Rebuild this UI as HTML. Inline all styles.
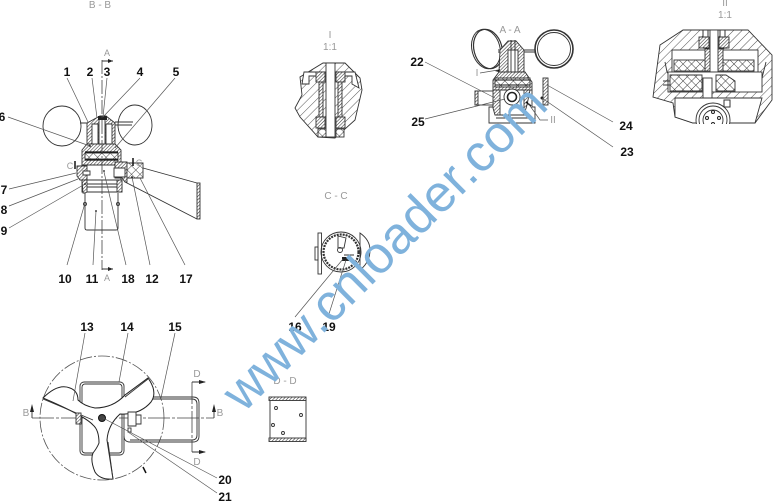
<!DOCTYPE html>
<html><head><meta charset="utf-8"><style>
html,body{margin:0;padding:0;background:#fff;width:773px;height:501px;overflow:hidden}
svg{display:block}
.l{font:bold 12px "Liberation Sans",sans-serif;fill:#111;text-anchor:middle}
.t{font:10px "Liberation Sans",sans-serif;fill:#999;text-anchor:middle}
.k{fill:none;stroke:#333;stroke-width:.9}
.m{fill:none;stroke:#555;stroke-width:.7}
.h{fill:url(#hatch);stroke:#333;stroke-width:.9}
.hf{fill:url(#hatchf);stroke:#333;stroke-width:.9}
.x{fill:url(#cross);stroke:#333;stroke-width:.9}
</style></head><body>
<svg width="773" height="501" viewBox="0 0 773 501" xmlns="http://www.w3.org/2000/svg">
<defs>
<pattern id="hatch" width="6" height="6" patternUnits="userSpaceOnUse" patternTransform="rotate(45)"><rect width="6" height="6" fill="#fff"/><line x1="0" y1="0" x2="0" y2="6" stroke="#555" stroke-width="1"/></pattern>
<pattern id="hatchf" width="2.4" height="2.4" patternUnits="userSpaceOnUse" patternTransform="rotate(45)"><rect width="2.4" height="2.4" fill="#fff"/><line x1="0" y1="0" x2="0" y2="2.4" stroke="#333" stroke-width="1.1"/></pattern>
<pattern id="cross" width="6" height="6" patternUnits="userSpaceOnUse" patternTransform="rotate(45)"><rect width="6" height="6" fill="#fff"/><path d="M0 0V6M0 0H6" stroke="#444" stroke-width="1"/></pattern>
</defs>

<!-- B-B -->
<text class="t" x="100" y="8">B - B</text>
<ellipse class="k" cx="62" cy="126" rx="19" ry="20" stroke-width="1.2"/>
<ellipse class="k" cx="135" cy="125" rx="17" ry="20" stroke-width="1.2"/>
<path class="k" d="M80 123H88M115 122H133M115 125H132"/>
<path class="hf" d="M87 123L100 116H106L115 123V144H87Z"/>
<path class="k" style="fill:#fff" d="M92 124H98V144H92ZM106 124H112V144H106Z"/>
<path class="k" style="fill:#fff" d="M99 118H105V152H99Z"/>
<path fill="#222" d="M98 116H107V120H98Z"/>
<path class="hf" d="M87 144L82 150V165H121V150L115 144Z"/>
<path class="x" d="M85 153H118V159H85Z"/>
<path d="M85 152H118M85 160H118" stroke="#111" stroke-width="1.3"/>
<path class="k" style="fill:#fff" d="M82 165H121V180H82Z"/>
<path class="hf" d="M77 166H87V180H80L77 176Z"/>
<path class="k" style="fill:#fff" d="M83 171H90V175H83Z"/>
<path class="hf" d="M115 162H127V182H125L122 178H115Z"/>
<path class="k" style="fill:#fff" d="M114 168H125V177H114Z"/>
<path class="x" d="M127 163H143V178H127Z"/>
<path class="k" d="M82 180H122V192H82ZM84 184H120M84 187H120"/>
<path class="hf" d="M82 180H87V192L85 193H83Z"/>
<path class="hf" d="M117 180H122V192H117Z"/>
<path class="k" d="M85 193V228Q85 230 87 230H116Q118 230 118 228V193"/>
<circle class="k" cx="85" cy="204" r="1.5"/><circle class="k" cx="118" cy="204" r="1.5"/>
<path class="k" d="M143 168L197 183M125 182L197 219"/>
<rect class="hf" x="197" y="183" width="3" height="36"/>
<path d="M75 161V169M133 158V166" stroke="#222" stroke-width="1.6"/>
<path d="M102 60V270" stroke="#444" stroke-width=".8" stroke-dasharray="14 2 2 2" fill="none"/>
<path class="k" d="M102 61H113M102 269H113"/>
<path d="M108 59L113 61L108 63ZM108 267L113 269L108 271Z" fill="#222"/>
<text class="t" x="107" y="56" style="font-size:9px">A</text>
<text class="t" x="107" y="281" style="font-size:9px">A</text>
<text class="t" x="70" y="169" style="font-size:9px">C</text>
<text class="t" x="139" y="166" style="font-size:9px">C</text>
<path class="m" d="M67 78L88 122M92 78L97 118M107 78L103 117M140 78L103 117M175 78L115 148M8 117L90 146M9 189L76 173M9 206L78 179M9 228L85 184M67 265L85 203M93 265L96 211M126 265L104 172M150 265L132 177M185 265L140 178"/>
<g fill="#111"><circle cx="90" cy="146" r=".9"/><circle cx="85" cy="184" r=".9"/><circle cx="96" cy="211" r=".9"/><circle cx="104" cy="171" r=".9"/><circle cx="132" cy="177" r=".9"/></g>
<text class="l" x="67" y="76">1</text><text class="l" x="90" y="76">2</text><text class="l" x="107" y="76">3</text><text class="l" x="140" y="76">4</text><text class="l" x="176" y="76">5</text>
<text class="l" x="2" y="121">6</text><text class="l" x="4" y="194">7</text><text class="l" x="4" y="214">8</text><text class="l" x="4" y="235">9</text>
<text class="l" x="65" y="283">10</text><text class="l" x="92" y="283">11</text><text class="l" x="128" y="283">18</text><text class="l" x="152" y="283">12</text><text class="l" x="186" y="283">17</text>

<!-- plan view -->
<circle cx="102" cy="418" r="62" fill="none" stroke="#555" stroke-width=".8" stroke-dasharray="12 2 2 2"/>
<rect class="k" x="80" y="382" width="44" height="73" rx="4"/><rect class="k" x="82" y="384" width="40" height="69" rx="3"/>
<path class="k" d="M124 397H193Q199 397 199 403V436Q199 442 193 442H130Q124 442 124 436"/>
<path class="k" d="M124 399H192Q197 399 197 404V435Q197 440 192 440H130"/>
<path d="M32 418H214" stroke="#444" stroke-width=".8" stroke-dasharray="22 2 3 2" fill="none"/>
<path d="M192 382V452" stroke="#444" stroke-width=".8" stroke-dasharray="22 2 3 2" fill="none"/>
<path class="k" d="M32 418V408M214 418V408M192 382H205M192 452H205"/>
<path d="M30 412L32 404L34 412ZM212 412L214 404L216 412ZM199 380L206 382L199 384ZM199 450L206 452L199 454Z" fill="#222"/>
<text class="t" x="26" y="416">B</text><text class="t" x="220" y="416">B</text>
<text class="t" x="197" y="377">D</text><text class="t" x="197" y="465">D</text>
<path d="M43 398Q58 383 70 388Q78 391 78 400Q84 406 95 408Q113 408 125 395L148 378Q158 392 151 402Q140 415 120 414Q108 425 107 440L113 479Q100 480 95 472Q90 460 93 453Q97 448 99 443Q99 430 93 425Q85 416 43 398Z" fill="#fff" stroke="#222" stroke-width="1"/>
<path class="k" d="M43 399L93 420M148 379L125 397M113 479L108 442" stroke-width="1.3"/>
<rect class="hf" x="76" y="413" width="5" height="11"/>
<path class="k" style="fill:#fff" d="M128 412H136V426H128ZM136 415H141V424H136Z"/>
<rect x="128" y="428" width="3" height="4" class="k"/>
<circle cx="102" cy="418" r="3.5" fill="#444" stroke="#111"/>
<path d="M143 467L146 473" stroke="#111" stroke-width="1.5"/>
<path class="m" d="M85 333L73 401M128 333L119 382M175 333L161 398M217 478L103 418M217 493L128 432"/>
<text class="l" x="87" y="331">13</text><text class="l" x="127" y="331">14</text><text class="l" x="175" y="331">15</text>
<text class="l" x="225" y="484">20</text><text class="l" x="225" y="501">21</text>

<!-- Detail I -->
<text class="t" x="330" y="38">I</text><text class="t" x="330" y="50">1:1</text>
<path class="h" d="M323 63H345L360 78L362 90L355 120L335 138L318 137L300 117L295 108L302 95L300 77Z"/>
<path class="k" style="fill:#fff" d="M304 72H355L359 88L352 84V76H309V84H302Z"/>
<rect class="hf" x="316" y="72" width="9" height="10"/><rect class="hf" x="336" y="72" width="9" height="10"/>
<rect class="hf" x="319" y="82" width="4" height="35"/><rect class="hf" x="338" y="82" width="4" height="35"/>
<rect class="hf" x="316" y="117" width="9" height="11"/><rect class="hf" x="336" y="117" width="9" height="11"/>
<rect class="x" x="318" y="129" width="8" height="8"/><rect class="x" x="336" y="129" width="8" height="8"/>
<rect x="326" y="63" width="9" height="74" fill="#fff" stroke="#333" stroke-width=".9"/>

<!-- C-C -->
<text class="t" x="336" y="199">C - C</text>
<circle class="k" cx="341" cy="252" r="20" stroke-width="1.4"/><circle cx="341" cy="252" r="17.5" fill="none" stroke="#333" stroke-width="2.2" stroke-dasharray="2 1"/>
<rect class="k" x="318" y="233" width="3.5" height="41"/><rect class="k" x="315" y="247" width="3" height="13"/>
<path class="k" d="M360 233Q370 240 370 250Q370 262 360 270V233Z"/>
<path class="k" d="M338 236L346 238L344 248H338ZM344 255H354"/>
<circle class="k" cx="340" cy="250" r="2.5"/>
<path d="M342 257H349V261H342Z" fill="#222"/>
<path class="m" d="M295 317L343 259M328 317L346 260"/>
<text class="l" x="295" y="331">16</text><text class="l" x="329" y="331">19</text>

<!-- D-D -->
<text class="t" x="285" y="384">D - D</text>
<rect class="k" x="270" y="398" width="36" height="43"/>
<rect class="hf" x="269" y="397" width="37" height="3.5"/><rect class="hf" x="269" y="438" width="37" height="3.5"/>
<circle class="k" cx="276" cy="408" r="1.5"/><circle class="k" cx="301" cy="415" r="1.5"/><circle class="k" cx="273" cy="425" r="1.5"/><circle class="k" cx="283" cy="433" r="1.5"/>

<!-- A-A -->
<text class="t" x="510" y="33">A - A</text>
<ellipse cx="486" cy="49" rx="14" ry="20" fill="#fff" stroke="#333" stroke-width="1" transform="rotate(-15 486 49)"/>
<ellipse cx="488" cy="49" rx="14" ry="20" fill="none" stroke="#333" stroke-width="1.2" transform="rotate(-15 488 49)"/>
<circle cx="554" cy="49" r="19" fill="#fff" stroke="#333" stroke-width="1.6"/><circle class="k" cx="554" cy="49" r="16.5"/>
<path class="k" d="M498 50H535M498 52H535"/>
<path class="hf" d="M500 50L508 41H516L524 50V72H499Z"/>
<path class="k" style="fill:#fff" d="M508 50H518V72H508Z"/>
<path class="k" d="M511 40V78M515 40V78"/>
<path d="M495 71L500 69L499 72Z" fill="#111"/>
<path class="hf" d="M499 72H525L532 82V90H493V80Z"/>
<path class="x" d="M495 78H530V87H495Z"/>
<path d="M495 80H530M495 85H530" stroke="#111" stroke-width="1"/>
<path class="k" style="fill:#fff" d="M493 90H532V107H535V123H489V107H493Z"/>
<path class="hf" d="M493 90H500V115H495L493 108Z"/>
<path class="hf" d="M524 90H530L527 105L524 115Z"/>
<rect class="k" x="475" y="91" width="18" height="14" style="fill:#fff"/><rect class="hf" x="475" y="91" width="3" height="14"/>
<rect class="hf" x="543" y="78" width="5" height="27"/><circle cx="542" cy="98" r="1.5" fill="#222"/>
<circle class="k" cx="512" cy="97" r="8" stroke-width="1.5" style="fill:#fff"/><circle cx="512" cy="97" r="4.5" fill="none" stroke="#222" stroke-width="1.6"/>
<path class="k" d="M495 115H530M496 118H529"/>
<path d="M526 102L531 106" stroke="#111" stroke-width="1.5"/>
<path class="m" d="M425 62L495 98M425 119L505 99M613 122L547 85M613 147L542 98M480 73L498 70M548 120H540L528 103"/>
<text class="t" x="477" y="76">I</text><text class="t" x="553" y="123">II</text>
<text class="l" x="417" y="66">22</text><text class="l" x="418" y="126">25</text><text class="l" x="626" y="130">24</text><text class="l" x="627" y="156">23</text>

<!-- Detail II -->
<text class="t" x="725" y="6">II</text><text class="t" x="725" y="18">1:1</text>
<path class="h" d="M683 30H748L772 55L772 100L755 123H693L675 117L673 103L653 97L660 45Z"/>
<rect x="672" y="50" width="86" height="28" fill="#fff" stroke="#333" stroke-width=".9"/>
<path class="k" d="M665 62L667 72L671 78H762L766 62"/>
<rect class="hf" x="699" y="37" width="10" height="11"/><rect class="hf" x="719" y="37" width="10" height="11"/>
<rect x="703" y="30" width="5" height="7" fill="#fff" stroke="#333"/><rect x="720" y="30" width="5" height="7" fill="#fff" stroke="#333"/>
<rect class="x" x="674" y="60" width="32" height="11"/><rect class="x" x="722" y="60" width="32" height="11"/>
<rect class="hf" x="705" y="49" width="6" height="22"/><rect class="hf" x="717" y="49" width="6" height="22"/>
<rect x="710" y="30" width="8" height="42" fill="#fff" stroke="#333" stroke-width=".9"/>
<path d="M703 48H709M719 48H727" stroke="#111" stroke-width="1"/>
<rect x="668" y="72" width="94" height="20" fill="#fff" stroke="#333" stroke-width=".9"/>
<path class="x" d="M670 75H702V91H670Z"/>
<path class="x" d="M716 75H726L735 81V91H716Z"/>
<rect x="703" y="78" width="9" height="22" fill="#fff" stroke="#333" stroke-width=".9"/>
<path class="k" d="M663 81H670M663 85H670"/>
<path d="M675 98H762L755 123H693L675 117Z" fill="#fff" stroke="#333" stroke-width=".9"/>
<rect x="724" y="100" width="6" height="7" fill="#fff" stroke="#333"/>
<circle class="k" cx="713" cy="120" r="17" style="fill:#fff" stroke-width="1.2"/>
<circle class="k" cx="713" cy="120" r="14"/><circle class="k" cx="713" cy="120" r="10"/>
<g fill="#fff" stroke="#222"><circle cx="713" cy="112" r="1.5"/><circle cx="719" cy="118" r="1.5"/><circle cx="713" cy="124" r="1.5"/><circle cx="707" cy="118" r="1.5"/></g>
<rect x="650" y="124" width="123" height="20" fill="#fff"/>

<!-- watermark -->
<text x="0" y="0" transform="translate(243.5 413.5) rotate(-45)" style="font:52px 'Liberation Sans',sans-serif;fill:#7fb2dc">www.cnloader.com</text>
</svg>
</body></html>
